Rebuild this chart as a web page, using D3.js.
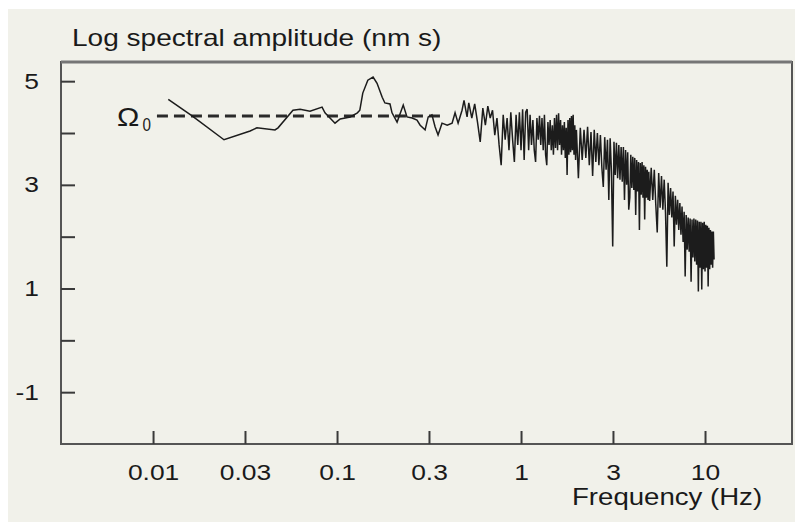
<!DOCTYPE html>
<html>
<head>
<meta charset="utf-8">
<script src="https://cdn.jsdelivr.net/npm/d3@7"></script>
<style>
  html, body { margin: 0; padding: 0; background: #fff; }
  svg { display: block; }
  text { font-family: "Liberation Sans", Arial, Helvetica, sans-serif; fill: #1a1a1a; }
</style>
</head>
<body>
<svg id="chart" width="795" height="522"></svg>
<script>
// axis ticks
const xTickValues = [0.01, 0.0316, 0.1, 0.316, 1, 3.16, 10]
const xTickLabels = ["0.01", "0.03", "0.1", "0.3", "1", "3", "10"]
const yTickValues = [5, 4, 3, 2, 1, 0, -1]
const yLabelled = [5, 3, 1, -1]

// plateau level (log amplitude) and the span of the dashed line (Hz)
const omega0 = 4.33
const omegaSpan = [0.0105, 0.386]

// spectrum, low frequencies (Hz / log amplitude)
const freqLow = [0.0121, 0.0163, 0.0243, 0.0337, 0.0367, 0.046, 0.0478, 0.0576, 0.063, 0.0713,
  0.0829, 0.086, 0.0975, 0.104, 0.118, 0.129, 0.133, 0.138, 0.147, 0.157,
  0.165, 0.176, 0.182, 0.194, 0.199, 0.212, 0.229, 0.24, 0.256, 0.272,
  0.283, 0.301, 0.313, 0.328, 0.341, 0.354, 0.372, 0.397, 0.422, 0.438,
  0.455, 0.478, 0.49, 0.509]
const ampLow = [4.65, 4.33, 3.87, 4.04, 4.10, 4.06, 4.10, 4.44, 4.46, 4.42,
  4.50, 4.39, 4.19, 4.27, 4.31, 4.39, 4.44, 4.77, 5.02, 5.08,
  4.96, 4.69, 4.58, 4.56, 4.39, 4.21, 4.54, 4.31, 4.29, 4.25,
  4.15, 4.06, 4.31, 4.35, 4.12, 3.96, 4.19, 4.15, 4.19, 4.39,
  4.19, 4.44, 4.63, 4.31]

// 0.52 - 1 Hz
const freqA = [0.52, 0.54, 0.56, 0.58, 0.60, 0.62, 0.64, 0.66, 0.68, 0.70,
  0.72, 0.74, 0.76, 0.78, 0.80, 0.82, 0.84, 0.86, 0.88, 0.90,
  0.92, 0.94, 0.96, 0.98, 1.00]
const ampA = [4.58, 4.29, 4.56, 4.21, 3.83, 4.48, 4.15, 4.52, 4.29, 4.44,
  3.96, 4.29, 3.77, 3.38, 4.35, 3.87, 4.29, 3.67, 4.40, 3.87,
  3.44, 4.35, 3.77, 4.40, 3.67]

// 1 - 2 Hz
const freqB = [1.02, 1.04, 1.06, 1.08, 1.10, 1.12, 1.14, 1.16, 1.18, 1.20,
  1.22, 1.24, 1.26, 1.28, 1.30, 1.32, 1.34, 1.36, 1.38, 1.40,
  1.42, 1.44, 1.46, 1.48, 1.50, 1.52, 1.54, 1.56, 1.58, 1.60,
  1.62, 1.64, 1.66, 1.68, 1.70, 1.72, 1.74, 1.76, 1.78, 1.80,
  1.82, 1.84, 1.86, 1.88, 1.90, 1.92, 1.94, 1.96, 1.98, 2.00]
const ampB = [4.46, 3.48, 4.40, 4.46, 3.67, 4.35, 3.77, 4.25, 3.67, 3.44,
  4.29, 3.87, 4.33, 3.77, 4.29, 3.67, 4.35, 3.58, 3.38, 4.21,
  3.77, 4.25, 3.67, 4.15, 3.58, 4.29, 3.71, 4.35, 3.67, 4.38,
  3.77, 4.25, 3.58, 4.15, 3.67, 4.21, 3.52, 4.10, 3.19, 4.25,
  3.58, 4.29, 3.63, 4.33, 3.67, 4.35, 3.58, 4.15, 3.48, 4.06]

// 2 - 5 Hz
const freqC = [2.05, 2.10, 2.15, 2.20, 2.25, 2.30, 2.35, 2.40, 2.45, 2.50,
  2.55, 2.60, 2.65, 2.70, 2.75, 2.80, 2.85, 2.90, 2.95, 3.00,
  3.05, 3.10, 3.15, 3.20, 3.25, 3.30, 3.35, 3.40, 3.45, 3.50,
  3.55, 3.60, 3.65, 3.70, 3.75, 3.80, 3.85, 3.90, 3.95, 4.00,
  4.05, 4.10, 4.15, 4.20, 4.25, 4.30, 4.35, 4.40, 4.45, 4.50,
  4.55, 4.60, 4.65, 4.70, 4.75, 4.80, 4.85, 4.90, 4.95, 5.00]
const ampC = [3.13, 4.10, 3.48, 4.06, 3.52, 4.12, 3.38, 4.02, 3.17, 4.06,
  3.44, 4.00, 3.38, 3.96, 3.33, 2.96, 3.92, 3.29, 3.87, 2.71,
  3.90, 3.25, 1.81, 3.83, 3.19, 3.81, 3.13, 3.77, 3.10, 3.73,
  3.06, 3.73, 2.71, 3.67, 3.00, 3.63, 2.52, 2.75, 3.58, 2.94,
  3.54, 2.90, 3.52, 2.42, 3.48, 2.87, 3.44, 2.13, 3.42, 2.81,
  3.44, 2.75, 3.38, 2.33, 3.35, 2.75, 3.29, 2.71, 3.25, 2.69]

// 5 - 11.2 Hz
const freqD = [5.1, 5.2, 5.3, 5.4, 5.5, 5.6, 5.7, 5.8, 5.9, 6.0,
  6.1, 6.2, 6.3, 6.4, 6.5, 6.6, 6.7, 6.8, 6.9, 7.0,
  7.1, 7.2, 7.3, 7.4, 7.5, 7.6, 7.7, 7.8, 7.9, 8.0,
  8.1, 8.2, 8.3, 8.4, 8.5, 8.6, 8.7, 8.8, 8.9, 9.0,
  9.1, 9.2, 9.3, 9.4, 9.5, 9.6, 9.7, 9.8, 9.9, 10.0,
  10.1, 10.2, 10.3, 10.4, 10.5, 10.6, 10.7, 10.8, 10.9, 11.0,
  11.1, 11.2]
const ampD = [3.33, 2.71, 3.29, 2.62, 2.08, 3.23, 2.56, 3.17, 2.52, 3.10,
  2.46, 1.42, 3.04, 2.42, 2.94, 2.37, 2.87, 1.81, 2.79, 2.23,
  2.71, 2.13, 2.65, 2.04, 2.58, 1.90, 2.48, 1.23, 2.42, 1.75,
  2.37, 1.71, 2.35, 1.13, 2.33, 1.60, 2.35, 1.52, 2.33, 1.46,
  2.31, 0.94, 2.29, 1.40, 2.29, 0.98, 2.27, 1.37, 2.29, 1.33,
  2.23, 1.40, 2.21, 1.04, 2.17, 1.37, 2.13, 1.46, 2.10, 1.40,
  2.10, 1.56]

const freqHz = freqLow.concat(freqA, freqB, freqC, freqD)
const logAmp = ampLow.concat(ampA, ampB, ampC, ampD)
const spectrum = freqHz.map((f, i) => ({ f: f, a: logAmp[i] }))

const margin = { top: 62, right: 3, bottom: 78, left: 61 }
const width = 795
const height = 522
const sx = 1.2 // the source figure is stretched sideways

let svg = d3.select("#chart")

svg.append("rect")
  .attr("x", 8).attr("y", 9)
  .attr("width", width - 8).attr("height", height - 9)
  .attr("fill", "#f1f1ea")

const xScale = d3.scaleLog()
  .domain([0.00316, 29.7])
  .range([margin.left, width - margin.right])

const yScale = d3.scaleLinear()
  .domain([-2, 5.37])
  .range([height - margin.bottom, margin.top])

// frame
svg.append("rect")
  .attr("x", margin.left)
  .attr("y", margin.top)
  .attr("width", width - margin.right - margin.left)
  .attr("height", height - margin.bottom - margin.top)
  .attr("fill", "none")
  .attr("stroke", "#555")
  .attr("stroke-width", 2)

svg.append("line")
  .attr("x1", margin.left).attr("x2", width - margin.right)
  .attr("y1", margin.top).attr("y2", margin.top)
  .attr("stroke", "#767676")
  .attr("stroke-width", 3)

let x_axis = d3.axisBottom(xScale)
  .tickValues(xTickValues)
  .tickFormat((d, i) => xTickLabels[i])
  .tickSizeInner(-13)
  .tickSizeOuter(0)
  .tickPadding(20)

let g_x = svg.append("g")
  .attr("transform", "translate(0," + (height - margin.bottom) + ")")
  .call(x_axis)
g_x.select(".domain").remove()
g_x.selectAll(".tick line").attr("stroke", "#3a3a3a").attr("stroke-width", 2)
g_x.selectAll(".tick text")
  .attr("font-size", 22)
  .attr("fill", "#1a1a1a")
  .attr("font-family", null)
  .attr("transform", `scale(${sx},1)`)

let y_axis = d3.axisLeft(yScale)
  .tickValues(yTickValues)
  .tickFormat((d) => (yLabelled.includes(d) ? String(d) : ""))
  .tickSizeInner(-14)
  .tickSizeOuter(0)
  .tickPadding(22)

let g_y = svg.append("g")
  .attr("transform", "translate(" + margin.left + ",0)")
  .call(y_axis)
g_y.select(".domain").remove()
g_y.selectAll(".tick line").attr("stroke", "#3a3a3a").attr("stroke-width", 2)
g_y.selectAll(".tick text")
  .attr("font-size", 22)
  .attr("fill", "#1a1a1a")
  .attr("font-family", null)
  .attr("x", null)
  .attr("transform", `translate(-22,0) scale(${sx},1)`)

// plateau
svg.append("line")
  .attr("x1", xScale(omegaSpan[0]))
  .attr("x2", xScale(omegaSpan[1]))
  .attr("y1", yScale(omega0))
  .attr("y2", yScale(omega0))
  .attr("stroke", "#2a2a2a")
  .attr("stroke-width", 3)
  .attr("stroke-dasharray", "11,6")

// spectrum
const line = d3.line()
  .x((d) => xScale(d.f))
  .y((d) => yScale(d.a))

svg.append("path")
  .datum(spectrum)
  .attr("d", line)
  .attr("fill", "none")
  .attr("stroke", "#1c1c1c")
  .attr("stroke-width", 1.5)

// labels
const ox = xScale(omegaSpan[0])
const oy = yScale(omega0)
svg.append("text")
  .attr("transform", `translate(${ox - 40},${oy + 10}) scale(1.15,1)`)
  .attr("font-size", 26)
  .text("Ω")
svg.append("text")
  .attr("transform", `translate(${ox - 6},${oy + 15}) scale(0.8,1)`)
  .attr("text-anchor", "end")
  .attr("font-size", 19)
  .text("0")

svg.append("text")
  .attr("transform", `translate(72,46) scale(1.22,1)`)
  .attr("font-size", 23)
  .text("Log spectral amplitude (nm s)")

svg.append("text")
  .attr("transform", `translate(572,505) scale(${sx},1)`)
  .attr("font-size", 23)
  .text("Frequency (Hz)")
</script>
</body>
</html>
